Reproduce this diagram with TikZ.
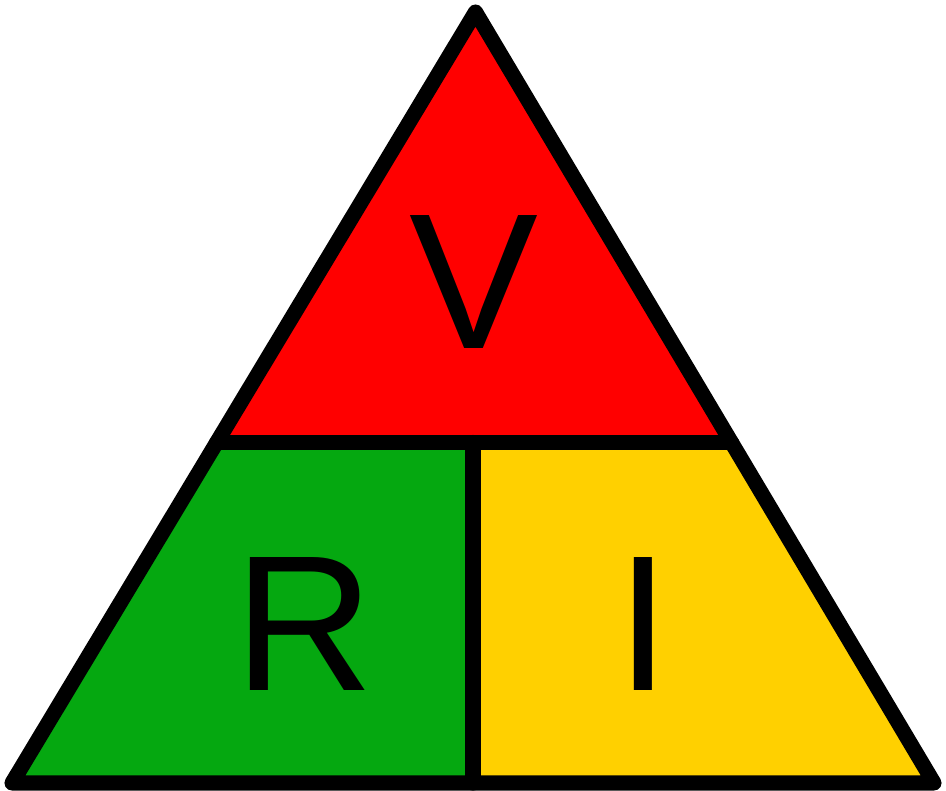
\documentclass[tikz,border=0pt]{standalone}
\usepackage{fontspec}
\setmainfont{Liberation Sans}
\usetikzlibrary{calc}
\definecolor{rojo}{RGB}{255,0,0}
\definecolor{verde}{RGB}{5,168,16}
\definecolor{amarillo}{RGB}{255,208,0}
\tikzset{
  borde/.style={line width=4.3pt, line join=round, line cap=round},
  letra/.style={anchor=base, inner sep=0pt, font=\fontsize{55}{60}\selectfont}
}
\begin{document}
\begin{tikzpicture}
            \useasboundingbox (0,0) rectangle (9.46,-7.91);

            % Vértices del triángulo
            \coordinate (A) at (4.755, -0.12);
            \coordinate (B) at (0.12, -7.83);
            \coordinate (C) at (9.34, -7.83);
            \coordinate (L) at ($(A)!0.5584!(B)$);
            \coordinate (R) at ($(A)!0.5584!(C)$);
            \coordinate (M) at (4.73, -4.425);
            \coordinate (N) at (4.73, -7.83);

            % Regiones de color
            \fill[rojo] (A) -- (L) -- (R) -- cycle;
            \fill[verde] (L) -- (M) -- (N) -- (B) -- cycle;
            \fill[amarillo] (M) -- (R) -- (C) -- (N) -- cycle;

            % Bordes y divisiones
            \draw[borde] (A) -- (B) -- (C) -- cycle;
            \draw[borde] (L) -- (R);
            \draw[borde] (M) -- (N);

            % Letras V, R, I
            \node[letra] (voltaje) at (4.735, -3.48) {V};
            \node[letra] (resistencia) at (3.04, -6.90) {R};
            \node[letra] (corriente) at (6.43, -6.90) {I};
        \end{tikzpicture}
\end{document}
